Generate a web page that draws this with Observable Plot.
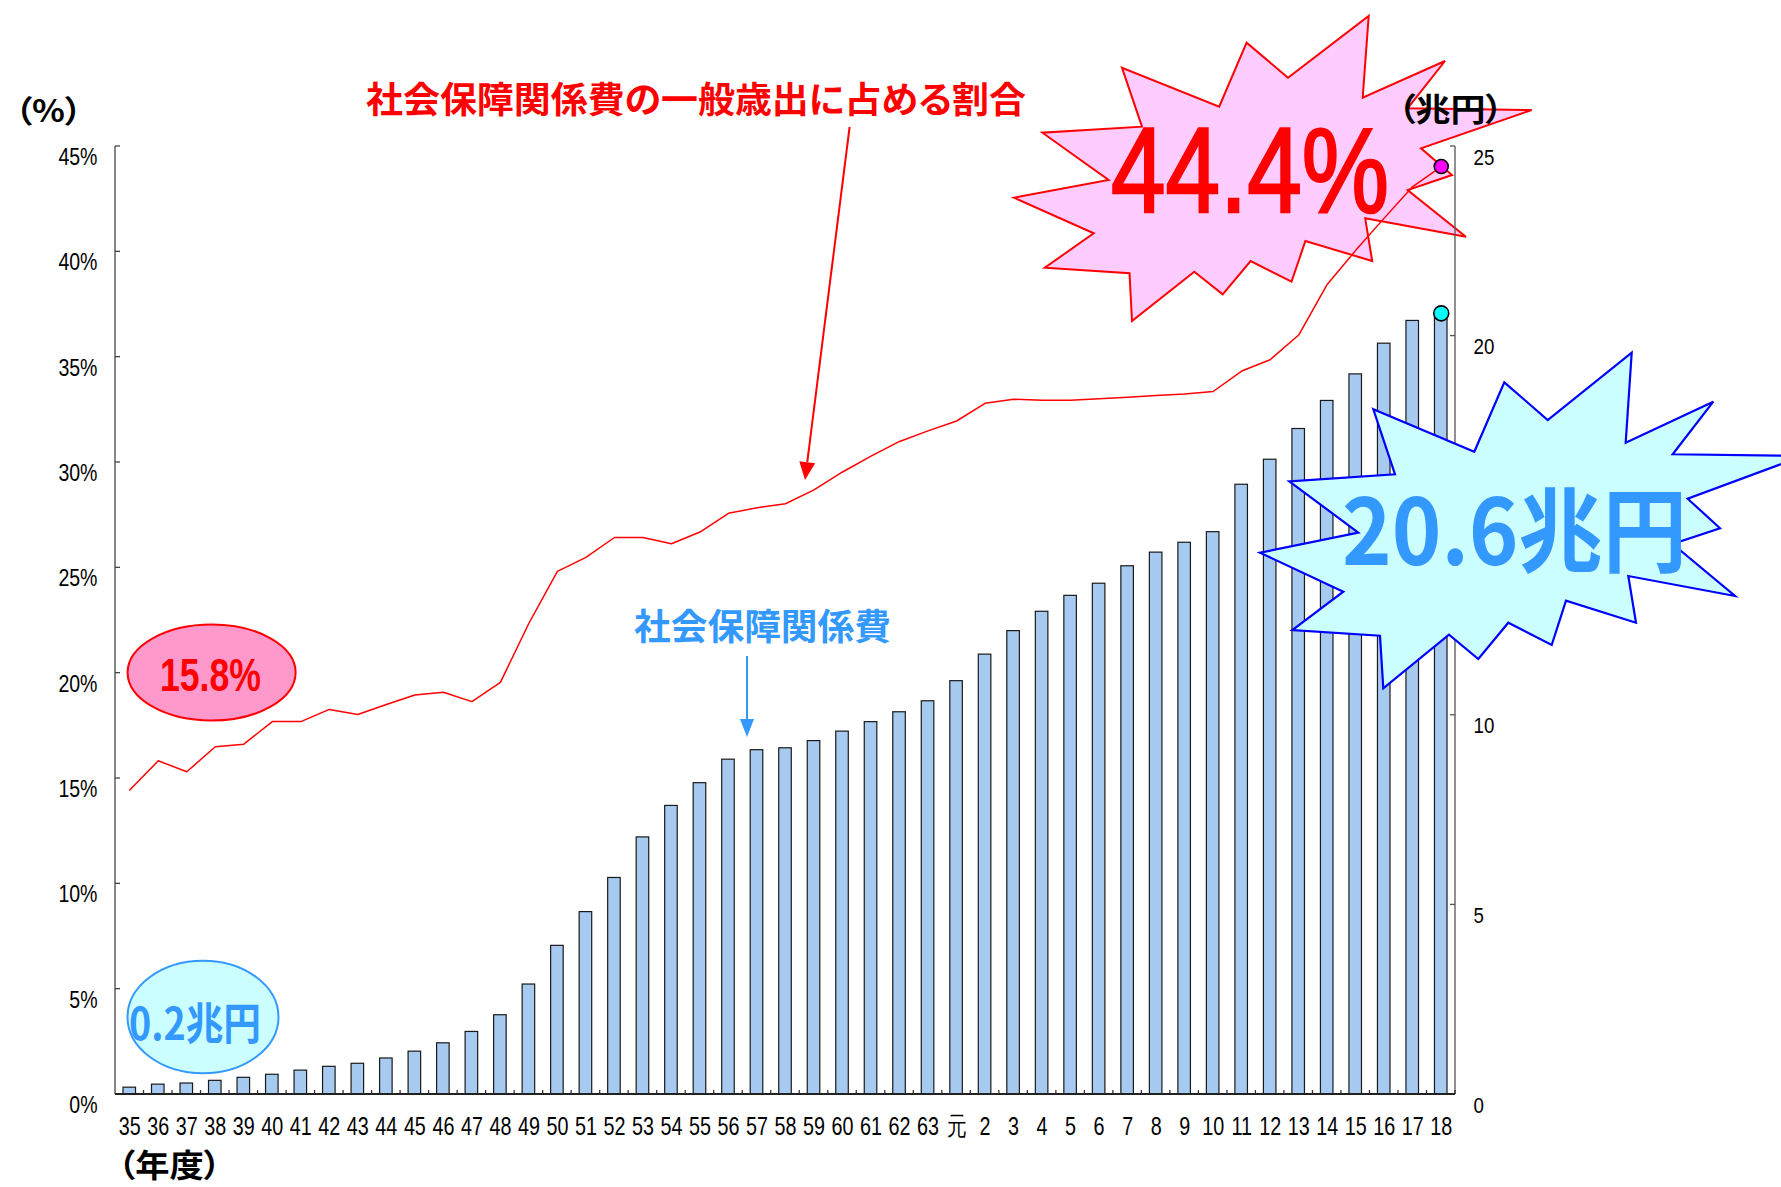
<!DOCTYPE html>
<html><head><meta charset="utf-8">
<script src="https://cdn.jsdelivr.net/npm/d3@7"></script>
<script src="https://cdn.jsdelivr.net/npm/@observablehq/plot@0.6"></script>
<style>
body{margin:0;background:#fff;}
#chart svg{display:block;}
</style></head><body><div id="chart"></div>
<script>
// ---- data ----
const years = ["35","36","37","38","39","40","41","42","43","44","45","46","47","48","49","50","51","52","53","54","55","56","57","58","59","60","61","62","63","元","2","3","4","5","6","7","8","9","10","11","12","13","14","15","16","17","18"];
// 社会保障関係費（兆円）
const spending = [0.18,0.26,0.29,0.36,0.44,0.52,0.63,0.73,0.81,0.95,1.13,1.35,1.65,2.09,2.90,3.92,4.81,5.71,6.78,7.61,8.21,8.83,9.08,9.13,9.32,9.57,9.82,10.08,10.37,10.90,11.60,12.22,12.73,13.15,13.47,13.93,14.29,14.55,14.83,16.08,16.74,17.55,18.29,18.99,19.80,20.40,20.60];
// 一般歳出に占める割合（%）
const share = [14.45,15.84,15.32,16.51,16.63,17.7,17.7,18.28,18.04,18.51,18.96,19.09,18.65,19.56,22.37,24.83,25.5,26.44,26.44,26.14,26.7,27.59,27.85,28.04,28.7,29.55,30.3,31.0,31.5,31.97,32.81,33.0,32.96,32.96,33.03,33.1,33.18,33.25,33.37,34.34,34.88,36.05,38.45,40.07,41.6,43.1,44.05];
const leftTicks = [0,5,10,15,20,25,30,35,40,45];
const rightTicks = [0,5,10,15,20,25];
const RATIO = 45 / 25; // % per 兆円 (dual axis)

const data = years.map((y, i) => ({year: y, spending: spending[i], share: share[i]}));
const last = data[data.length - 1];

const W = 1781, H = 1187;
const chart = Plot.plot({
  width: W, height: H,
  marginLeft: 115, marginRight: 326, marginTop: 146, marginBottom: 93,
  style: {fontFamily: "'Liberation Sans', Arial, sans-serif", background: "#fff", color: "#000", overflow: "hidden"},
  x: {type: "band", domain: years, paddingInner: 0.56, paddingOuter: 0.28, round: false, axis: null},
  y: {domain: [0, 45], axis: null},
  marks: [
    Plot.barY(data, {x: "year", y: d => d.spending * RATIO, fill: "#a6caf0", stroke: "#1a1a1a", strokeWidth: 1.2}),
    Plot.lineY(data, {x: "year", y: "share", stroke: "#ff0000", strokeWidth: 1.5}),
    Plot.axisY(leftTicks, {anchor: "left", label: null, tickSize: 0, tickPadding: 18, dy: 11, fontSize: 23, tickFormat: d => d + "%"}),
    Plot.axisY(rightTicks.map(d => d * RATIO), {anchor: "right", label: null, tickSize: 0, tickPadding: 18, dy: 11, fontSize: 22, tickFormat: d => String(Math.round(d / RATIO))}),
    Plot.axisX({anchor: "bottom", label: null, tickSize: 0, tickPadding: 22, fontSize: 26}),
    Plot.dot([last], {x: "year", y: d => d.spending * RATIO, r: 7.5, fill: "#00ffff", stroke: "#000", strokeWidth: 1.6}),
    Plot.dot([last], {x: "year", y: "share", r: 7, fill: "#ff00ff", stroke: "#000", strokeWidth: 1.6})
  ]
});
document.getElementById("chart").append(chart);

// ---- condense tick labels ----
function condense(sel, k) {
  chart.querySelectorAll(sel).forEach(t => {
    const tr = t.getAttribute("transform") || "";
    t.setAttribute("transform", tr + ` scale(${k},1)`);
  });
}
condense('g[aria-label="x-axis tick label"] text', 0.76);
condense('g[aria-label="y-axis tick label"] text', 0.85);

// ---- axis lines and inward ticks from the scales ----
const xS = chart.scale("x"), yS = chart.scale("y");
const [xL, xR] = xS.range;
const [yB, yT] = yS.range;
const svg = d3.select(chart);
const axes = svg.append("g").attr("stroke-width", 1.3);
axes.append("line").attr("x1", xL).attr("x2", xL).attr("y1", yT).attr("y2", yB).attr("stroke", "#444");
axes.append("line").attr("x1", xR).attr("x2", xR).attr("y1", yT).attr("y2", yB).attr("stroke", "#555");
leftTicks.forEach(t => axes.append("line").attr("x1", xL).attr("x2", xL + 5).attr("y1", yS.apply(t)).attr("y2", yS.apply(t)).attr("stroke", "#444"));
rightTicks.forEach(t => axes.append("line").attr("x1", xR - 5).attr("x2", xR).attr("y1", yS.apply(t * RATIO)).attr("y2", yS.apply(t * RATIO)).attr("stroke", "#555"));
const gap = (xS.step - xS.bandwidth) / 2;
years.forEach(y => {
  const bx = xS.apply(y) + xS.bandwidth + gap;
  axes.append("line").attr("x1", bx).attr("x2", bx).attr("y1", yB).attr("y2", yB - 4).attr("stroke", "#333");
});
axes.append("line").attr("x1", xL).attr("x2", xR).attr("y1", yB).attr("y2", yB).attr("stroke", "#222").attr("stroke-width", 2);

// ---- decorations (pixel shapes) ----
const pinkStar = [[1368.7,16],[1362.7,97.7],[1445,61],[1407.6,108.3],[1531.6,110],[1421,148.3],[1452,175],[1407.6,190],[1465.9,236.7],[1365.2,218.3],[1372.2,261],[1305.4,241],[1291.5,281.7],[1250.6,261],[1222.7,294.3],[1194.3,271.7],[1132,321],[1129.5,273.3],[1044.8,267.7],[1093.7,233.3],[1014,197.7],[1108.6,180],[1042.4,132.7],[1142,126.7],[1122,67.7],[1219.2,106.7],[1246.6,42.7],[1288,77.7]];
const cyanStar = [[1631.7,352.7],[1625.7,442.7],[1713.3,401.7],[1672.7,454.3],[1803,456],[1687.7,498.7],[1720,528.3],[1672.7,544],[1735,596],[1628.3,576],[1636,622.7],[1566,600.7],[1551.7,645],[1508.3,622.7],[1478.3,659],[1449,634.7],[1383.3,688.3],[1380,635.7],[1292.3,630],[1343.3,591.7],[1260,552.7],[1358.3,532.7],[1289.3,481.3],[1395,474.3],[1373.3,409.3],[1474.3,451.7],[1504.3,382.3],[1547.7,420]];

const back = svg.insert("g", "g");
back.append("polygon").attr("points", pinkStar.map(p => p.join(",")).join(" "))
  .attr("fill", "#ffccff").attr("stroke", "#ff0000").attr("stroke-width", 2).attr("stroke-linejoin", "miter");

const front = svg.append("g");
front.append("polygon").attr("points", cyanStar.map(p => p.join(",")).join(" "))
  .attr("fill", "#ccffff").attr("stroke", "#0000ff").attr("stroke-width", 2.2);

const CJK = "'Noto Sans CJK JP', 'Noto Sans', sans-serif";
function txt(g, s, x, y, o) {
  const t = g.append("text").text(s).attr("x", x).attr("y", y)
    .attr("font-family", o.family || CJK).attr("font-size", o.size)
    .attr("font-weight", o.weight || "bold").attr("fill", o.fill || "#000")
    .attr("text-anchor", o.anchor || "start")
    .style("font-feature-settings", "'palt'");
  if (o.baseline) t.attr("dominant-baseline", o.baseline);
  if (o.len) t.attr("textLength", o.len).attr("lengthAdjust", "spacingAndGlyphs");
  return t;
}
function arrow(g, a, b, color, w, hl, hw) {
  const dx = b[0] - a[0], dy = b[1] - a[1], L = Math.hypot(dx, dy);
  const ux = dx / L, uy = dy / L;
  const bx = b[0] - ux * hl, by = b[1] - uy * hl;
  g.append("line").attr("x1", a[0]).attr("y1", a[1]).attr("x2", bx).attr("y2", by).attr("stroke", color).attr("stroke-width", w);
  g.append("polygon").attr("points", [[b[0], b[1]], [bx - uy * hw / 2, by + ux * hw / 2], [bx + uy * hw / 2, by - ux * hw / 2]].map(p => p.join(",")).join(" ")).attr("fill", color);
}

// ellipses
front.append("ellipse").attr("cx", 211.6).attr("cy", 672.5).attr("rx", 84).attr("ry", 48)
  .attr("fill", "#ff99cc").attr("stroke", "#ff0000").attr("stroke-width", 2);
txt(front, "15.8%", 160, 690.5, {family: "'Liberation Sans', Arial, sans-serif", size: 47, fill: "#ff0000", len: 101});
front.append("ellipse").attr("cx", 203).attr("cy", 1017).attr("rx", 75.5).attr("ry", 56.3)
  .attr("fill", "#ccffff").attr("stroke", "#3399ff").attr("stroke-width", 2);
txt(front, "0.2兆円", 129, 1040, {size: 44, fill: "#3399ff", len: 132});

// big labels
txt(front, "44.4%", 1111, 212, {family: "'Liberation Sans', Arial, sans-serif", size: 121, weight: "normal", fill: "#ff0000", len: 278}).attr("stroke", "#ff0000").attr("stroke-width", 2.5);
txt(front, "20.6兆円", 1342, 565, {size: 92, fill: "#3399ff", len: 345});

// titles & units
txt(front, "社会保障関係費の一般歳出に占める割合", 366, 97, {size: 36, fill: "#ff0000", baseline: "central", len: 660});
arrow(front, [849.6, 127], [805, 480], "#ff0000", 2, 18, 16);
txt(front, "社会保障関係費", 634, 624, {size: 36, fill: "#3399ff", baseline: "central", len: 257});
arrow(front, [747, 656], [747, 737], "#3399ff", 2, 18, 14);
txt(front, "（%）", 15, 108, {size: 31, baseline: "central", len: 67});
txt(front, "（兆円）", 1398, 106.5, {size: 32, baseline: "central", len: 105});
txt(front, "（年度）", 118, 1163, {size: 32, baseline: "central", len: 103});
</script>
</body></html>
